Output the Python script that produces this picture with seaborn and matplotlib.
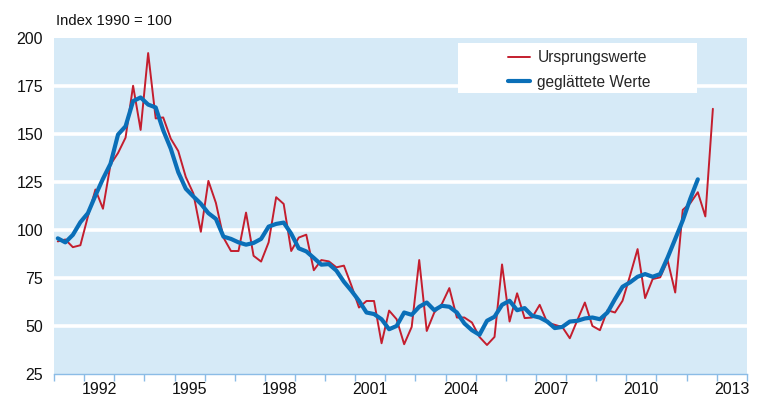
import numpy as np
import pandas as pd
import matplotlib
matplotlib.use("Agg")
import matplotlib.pyplot as plt
from matplotlib.patches import Rectangle
import seaborn as sns

# quarterly index values, 1991Q1 onwards
ursprung = [94, 95, 91, 92, 107, 121, 111, 134, 140, 148, 175, 152, 192, 158, 158.5, 147.5,
            141, 127.5, 119, 99, 125.5, 114, 96, 89, 89, 109, 86.5, 83.5, 93.5, 117, 113.5, 89,
            96, 97.5, 79, 84.3, 83.6, 80.5, 81.4, 71, 59.6, 63, 63, 41, 58, 53.5, 40.5, 49.5,
            84.3, 47.4, 57, 61.4, 69.7, 54.4, 54.4, 51.8, 44.3, 40.1, 44.3, 82, 52.3, 67, 54.1, 54.4,
            61, 51.8, 50.6, 49.5, 43.6, 53, 62.2, 50, 47.8, 58.2, 57, 63.1, 76.2, 90, 64.5, 74.4,
            75.3, 84, 67.4, 110.4, 113.9, 119.6, 107, 163]
geglaettet = [95.6, 93.5, 97.4, 104, 108.7, 117.9, 126.6, 134.4, 149.6, 153.9, 167, 168.9, 165.2, 163.7, 151.8, 142.3,
              130, 121.4, 117.4, 113.6, 108.7, 105.7, 96.5, 95.3, 93.5, 92.3, 93.2, 95.3, 101.7, 103.1, 103.8, 98,
              90.4, 88.8, 85.4, 81.9, 82.2, 78.8, 73, 68.3, 63.1, 57, 56.2, 53.5, 48.3, 50, 57, 55.8,
              60, 62.2, 58.2, 60.5, 60, 57, 51.3, 47.8, 45.4, 52.7, 54.8, 61, 63.1, 58.2, 59.3, 55.3,
              54.4, 52.3, 48.9, 49.5, 52.3, 52.7, 53.9, 54.4, 53.5, 57, 64, 70.4, 72.7, 75.6, 77, 75.6,
              77, 85.7, 95.3, 104.9, 116.2, 126.3]
year_labels = [1992, 1995, 1998, 2001, 2004, 2007, 2010, 2013]
y_ticks = [25, 50, 75, 100, 125, 150, 175, 200]


def quarter_pos(n):
    # centre of each quarter on a continuous year axis
    per = pd.period_range("1991Q1", periods=n, freq="Q")
    return per.year + (per.quarter - 0.5) / 4


df_red = pd.DataFrame({"x": quarter_pos(len(ursprung)), "y": ursprung})
df_blue = pd.DataFrame({"x": quarter_pos(len(geglaettet)), "y": geglaettet})

sns.set_theme(style="white")
plt.rcParams["font.family"] = ["Liberation Sans", "DejaVu Sans"]

fig = plt.figure(figsize=(7.62, 4.01), dpi=100)
ax = fig.add_axes([0.0709, 0.0673, 0.9091, 0.8387])
ax.set_facecolor("#d6eaf7")

sns.lineplot(data=df_red, x="x", y="y", ax=ax, color="#c41e2e", linewidth=1.4,
             label="Ursprungswerte")
sns.lineplot(data=df_blue, x="x", y="y", ax=ax, color="#0a6fb8", linewidth=3.0,
             label="geglättete Werte")

ax.set_xlim(1991, 2014)
ax.set_ylim(25, 200)
ax.set_yticks(y_ticks)
ax.set_yticklabels([str(v) for v in y_ticks], fontsize=11.5, color="#111111")
for v in y_ticks[1:-1]:
    ax.axhline(v, color="white", linewidth=2.6, zorder=1)

# year boundaries as ticks, labels centred under the year
ax.set_xticks(np.arange(1991, 2015))
ax.set_xticklabels([])
ax.tick_params(axis="x", which="major", direction="out", length=5, width=1,
               color="#8bbce6", bottom=True)
ax.set_xticks([y + 0.5 for y in year_labels], minor=True)
ax.set_xticklabels([str(y) for y in year_labels], minor=True, fontsize=11.5, color="#111111")
ax.tick_params(axis="x", which="minor", length=0, pad=6)
ax.tick_params(axis="y", length=0, pad=8)

ax.set_xlabel("")
ax.set_ylabel("")
for s in ["top", "right", "left"]:
    ax.spines[s].set_visible(False)
ax.spines["bottom"].set_color("#8bbce6")
ax.spines["bottom"].set_linewidth(1)

# white legend box, wider than the entries
ax.add_patch(Rectangle((0.583, 0.835), 0.345, 0.149, transform=ax.transAxes,
                       facecolor="white", edgecolor="none", zorder=4))
leg = ax.legend(loc="upper left", bbox_to_anchor=(0.655, 0.963), frameon=False,
                fontsize=11.2, handlelength=1.45, borderpad=0, labelspacing=0.62,
                borderaxespad=0, handletextpad=0.45)
leg.set_zorder(5)

fig.text(0.0735, 0.948, "Index 1990 = 100", fontsize=10.7, color="#111111", va="center")

fig.savefig("out.png", dpi=100)
